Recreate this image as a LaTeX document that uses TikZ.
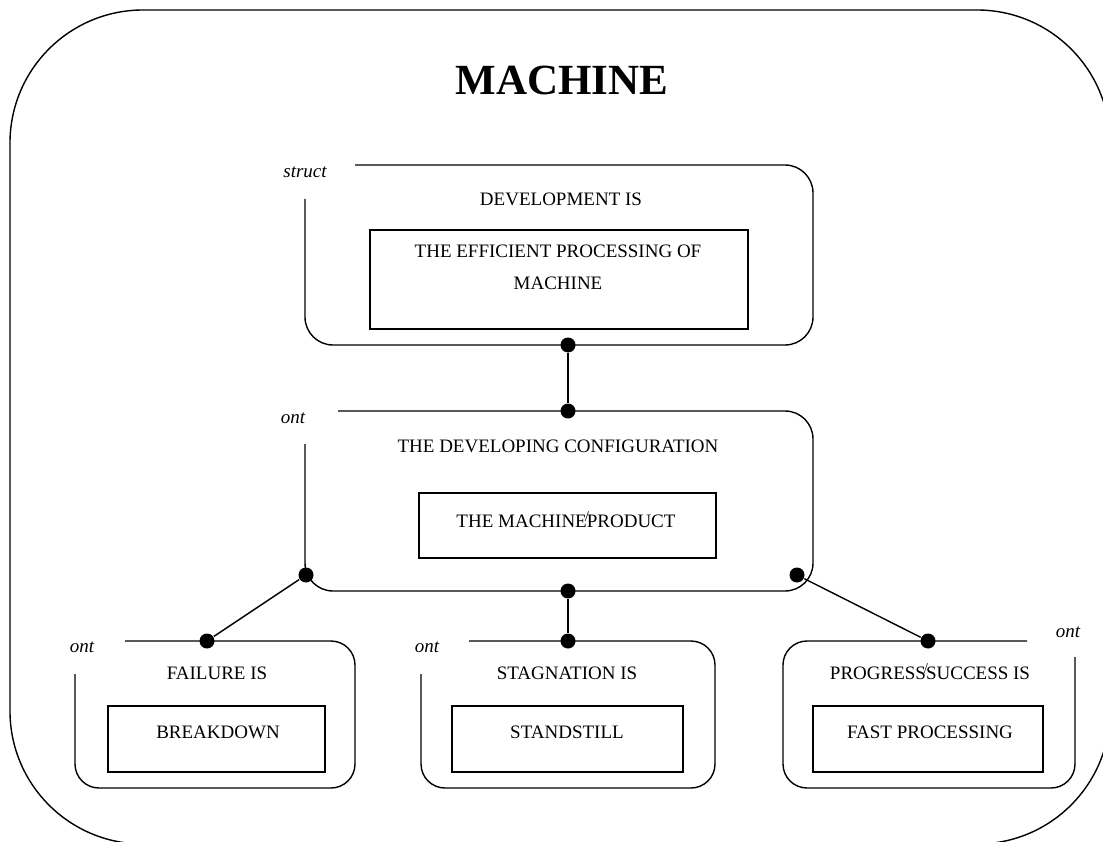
\documentclass[tikz,border=0pt]{standalone}
\usepackage{fontspec}
\setmainfont{Liberation Serif}
% zero-width slash set over the join of two words
\newcommand{\joinslash}{\makebox[0pt]{\raisebox{0.7ex}{\fontsize{15}{15}\selectfont/}}}
\begin{document}
\begin{tikzpicture}[x=1pt,y=-1pt,
  line width=1.4pt,
  lbl/.style={font=\fontsize{19}{32}\selectfont, inner sep=0pt, align=center},
  tag/.style={font=\itshape\fontsize{19}{23}\selectfont, inner sep=0pt},
  frame/.style={draw, rectangle, inner sep=0pt},
  dot/.style={circle, fill, inner sep=0pt, minimum size=15pt},
  bigtab/.style={draw, rounded corners=28pt},
  smalltab/.style={draw, rounded corners=24pt},
]
\useasboundingbox (0,0) rectangle (1103,842);
\clip (0,0) rectangle (1103,842);

% outer frame
\draw[rounded corners=133pt] (10,10) rectangle (1110,844);
\node[font=\bfseries\fontsize{43}{48}\selectfont, inner sep=0pt] (title) at (562,80) {MACHINE};

% struct box
\draw[bigtab] (355,165) -| (813,345) -| (305,199);
\node[tag] (structlbl) at (305,172) {struct};
\node[lbl] (devhead) at (561,199) {DEVELOPMENT IS};
\node[frame, minimum width=378pt, minimum height=99pt] (devframe) at (559,279.5) {};
\node[lbl] (devtext) at (558,267) {THE EFFICIENT PROCESSING OF\\MACHINE};

% configuration box
\draw[bigtab] (338,411) -| (813,591) -| (305,444);
\node[tag] (ontmid) at (293,418) {ont};
\node[lbl] (confhead) at (558,446) {THE DEVELOPING CONFIGURATION};
\node[frame, minimum width=297pt, minimum height=65pt] (confframe) at (567.5,525.5) {};
\node[lbl] (conftext) at (566,520) {THE MACHINE\joinslash PRODUCT};

% failure box
\draw[smalltab] (125,641) -| (355,788) -| (75,674);
\node[tag] (ontfail) at (82,647) {ont};
\node[lbl] (failhead) at (217,673) {FAILURE IS};
\node[frame, minimum width=217pt, minimum height=66pt] (failframe) at (216.5,739) {};
\node[lbl] (failtext) at (218,732) {BREAKDOWN};

% stagnation box
\draw[smalltab] (469,641) -| (715,788) -| (421,674);
\node[tag] (ontstag) at (427,647) {ont};
\node[lbl] (staghead) at (567,673) {STAGNATION IS};
\node[frame, minimum width=231pt, minimum height=66pt] (stagframe) at (567.5,739) {};
\node[lbl] (stagtext) at (567,732) {STANDSTILL};

% progress box (tab to the right)
\draw[smalltab] (1027,641) -| (783,788) -| (1075,657);
\node[tag] (ontprog) at (1068,632) {ont};
\node[lbl] (proghead) at (930,672) {PROGRESS\joinslash SUCCESS IS};
\node[frame, minimum width=230pt, minimum height=66pt] (progframe) at (928,739) {};
\node[lbl] (progtext) at (930,732) {FAST PROCESSING};

% connection points
\node[dot] (d1) at (568,345) {};
\node[dot] (d2) at (568,411) {};
\node[dot] (d3) at (306,575) {};
\node[dot] (d4) at (568,591) {};
\node[dot] (d5) at (797,575) {};
\node[dot] (d6) at (207,641) {};
\node[dot] (d7) at (568,641) {};
\node[dot] (d8) at (928,641) {};

\draw (d1) -- (d2);
\draw (d3) -- (d6);
\draw (d4) -- (d7);
\draw (d5) -- (d8);
\end{tikzpicture}
\end{document}
